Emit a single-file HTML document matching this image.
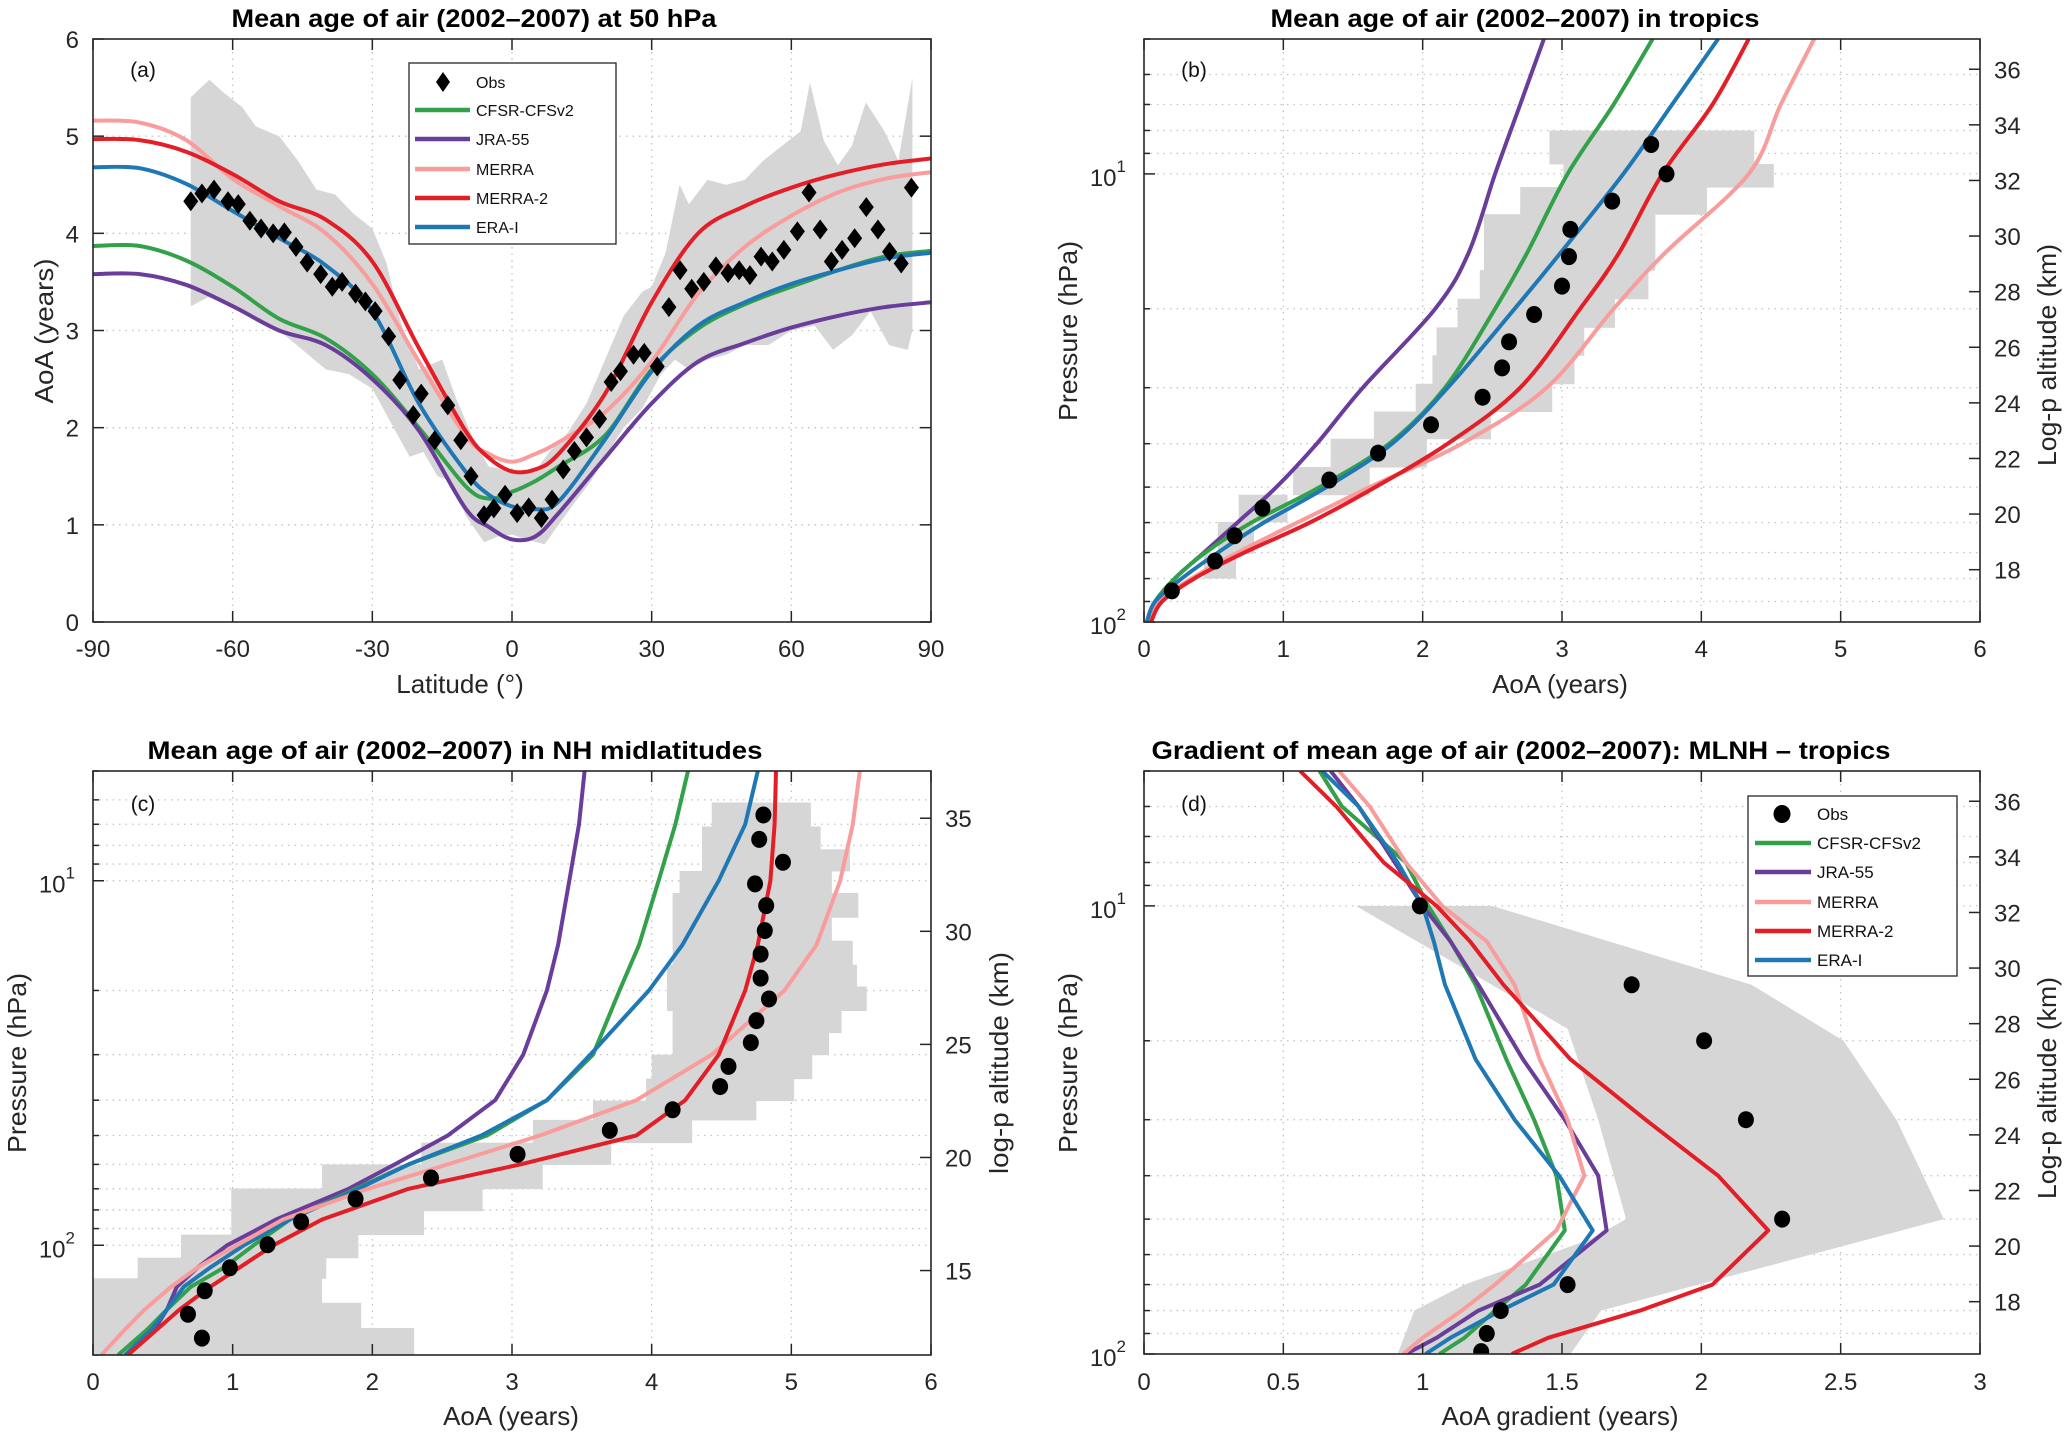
<!DOCTYPE html>
<html><head><meta charset="utf-8">
<style>
html,body{margin:0;padding:0;background:#fff;}
svg{display:block;font-family:"Liberation Sans",Arial,sans-serif;}
</style></head>
<body>
<svg id="chart" width="2067" height="1435" viewBox="0 0 2067 1435" xmlns="http://www.w3.org/2000/svg"></svg>
<script>
// ---------- Panel (a) data ----------
const latA = [-90,-80,-70,-60,-50,-40,-30,-20,-10,-5,0,5,10,20,30,40,50,60,70,80,90];
const aCFSR  = [3.87,3.87,3.72,3.45,3.12,2.92,2.55,2.0,1.4,1.27,1.34,1.45,1.6,1.92,2.6,3.02,3.27,3.45,3.62,3.76,3.82];
const aJRA   = [3.58,3.58,3.47,3.25,3.0,2.85,2.5,1.97,1.17,0.98,0.85,0.88,1.12,1.69,2.25,2.68,2.87,3.03,3.15,3.24,3.29];
const aMERRA = [5.16,5.14,4.96,4.56,4.28,4.0,3.48,2.68,1.92,1.73,1.65,1.73,1.85,2.16,2.68,3.38,3.86,4.18,4.42,4.56,4.63];
const aMERRA2= [4.97,4.96,4.84,4.61,4.33,4.14,3.71,2.82,1.97,1.69,1.55,1.57,1.73,2.35,3.29,4.0,4.28,4.47,4.61,4.71,4.77];
const aERA   = [4.68,4.67,4.51,4.23,3.95,3.67,3.2,2.25,1.55,1.31,1.19,1.16,1.24,1.88,2.58,3.05,3.29,3.48,3.62,3.74,3.8];
const obsLatA = [-69,-66.6,-64,-61,-58.8,-56.3,-53.9,-51.3,-48.9,-46.4,-44,-41.1,-38.6,-36.5,-33.6,-31.5,-29.4,-26.5,-24.1,-21.2,-19.5,-16.6,-13.8,-11,-8.8,-6,-3.9,-1.5,1.1,3.6,6.3,8.6,11,13.4,16,18.8,21.3,23.3,26.1,28.4,31.2,33.7,36.1,38.6,41.2,43.8,46.4,48.8,51.1,53.5,55.9,58.4,61.3,63.8,66.2,68.6,70.9,73.6,76.1,78.6,81.1,83.6,85.8];
const obsValA = [4.33,4.41,4.45,4.33,4.3,4.13,4.05,4.0,4.01,3.86,3.7,3.58,3.45,3.5,3.38,3.3,3.2,2.94,2.49,2.13,2.35,1.87,2.23,1.87,1.5,1.1,1.17,1.31,1.12,1.18,1.07,1.26,1.57,1.76,1.9,2.09,2.47,2.58,2.75,2.77,2.63,3.24,3.62,3.43,3.5,3.66,3.59,3.62,3.57,3.76,3.71,3.83,4.02,4.42,4.04,3.71,3.83,3.95,4.27,4.04,3.81,3.69,4.47];
const bandHiLat = [-69,-65,-62,-58,-55,-50,-46,-42,-38,-34,-30,-27,-24,-20,-15,-12,-8,-5,0,5,8,12,16,20,24,28,30,33,36,38,42,46,50,54,58,62,64,67,70,73,76,80,83,86];
const bandHi    = [5.4,5.58,5.45,5.3,5.1,5.0,4.75,4.45,4.4,4.2,4.05,3.7,3.1,2.6,2.7,2.3,1.85,1.6,1.55,1.55,1.75,1.95,2.25,2.7,3.15,3.4,3.45,3.8,4.5,4.3,4.55,4.5,4.55,4.75,4.9,5.05,5.55,4.95,4.7,4.9,5.35,5.05,4.75,5.6];
const bandLoLat = [-69,-65,-60,-55,-50,-45,-40,-35,-30,-26,-22,-19,-16,-13,-10,-6,-3,0,3,7,10,13,17,20,24,28,32,35,38,42,46,50,55,60,65,69,73,77,81,85,86];
const bandLo    = [3.25,3.35,3.25,3.1,3.0,2.8,2.6,2.55,2.4,2.05,1.7,1.75,1.5,1.45,1.1,0.82,0.88,0.9,0.85,0.8,1.0,1.2,1.45,1.7,2.0,2.2,2.55,2.7,2.6,2.7,2.75,2.85,2.85,3.0,3.05,2.8,2.95,3.2,2.85,2.8,3.0];

// ---------- Panel (b) data: tropics ----------
const presB  = [100,90,80,70,60,50,40,30,20,15,10,7,5];
const bJRA   = [0.02,0.1,0.22,0.43,0.67,0.95,1.24,1.57,2.09,2.33,2.52,2.7,2.87];
const bCFSR  = [0.02,0.08,0.22,0.44,0.77,1.26,1.76,2.16,2.52,2.75,3.04,3.37,3.65];
const bERA   = [0.02,0.08,0.27,0.53,0.86,1.31,1.78,2.18,2.66,2.99,3.44,3.79,4.12];
const bMERRA2= [0.05,0.13,0.36,0.72,1.19,1.66,2.18,2.7,3.13,3.41,3.72,4.08,4.34];
const bMERRA = [0.03,0.1,0.34,0.67,1.1,1.62,2.28,2.89,3.37,3.74,4.34,4.57,4.81];
const obsPB  = [85.2,73.1,64.2,55.7,48.2,42.0,36.3,31.5,27.1,23.7,20.6,17.8,15.3,13.3,11.5,10.0,8.6];
const obsAB  = [0.2,0.51,0.65,0.85,1.33,1.68,2.06,2.43,2.57,2.62,2.8,3.0,3.05,3.06,3.36,3.75,3.64];
const bandBPbot = [79.8,70.3,59.8,52.0,45.1,39.0,33.9,29.4,25.4,22.0,19.0,16.4,12.3,10.7,9.5];
const bandBPtop = [70.3,59.8,52.0,45.1,39.0,33.9,29.4,25.4,22.0,19.0,16.4,12.3,10.7,9.5,8.0];
const bandBLo   = [0.43,0.53,0.68,1.07,1.34,1.65,1.95,2.07,2.1,2.25,2.41,2.44,2.7,3.01,2.91];
const bandBHi   = [0.66,0.79,1.03,1.62,2.03,2.49,2.93,3.09,3.16,3.38,3.62,3.67,4.04,4.52,4.38];

// ---------- Panel (c) data: NH midlatitudes ----------
const presC  = [200,170,150,130,115,100,85,70,60,50,40,30,20,15,10,7,5];
const cJRA   = [0.23,0.44,0.53,0.6,0.75,0.96,1.31,1.83,2.16,2.54,2.88,3.08,3.25,3.33,3.41,3.48,3.52];
const cCFSR  = [0.18,0.39,0.53,0.7,0.94,1.15,1.41,1.88,2.26,2.82,3.25,3.58,3.77,3.91,4.05,4.17,4.26];
const cERA   = [0.23,0.42,0.53,0.65,0.84,1.08,1.41,1.9,2.26,2.78,3.25,3.56,3.98,4.22,4.48,4.67,4.76];
const cMERRA2= [0.25,0.46,0.62,0.84,1.05,1.29,1.64,2.26,3.06,3.89,4.24,4.48,4.67,4.76,4.85,4.88,4.89];
const cMERRA = [0.06,0.23,0.37,0.56,0.75,1.03,1.36,1.97,2.54,3.2,3.89,4.43,4.95,5.18,5.35,5.44,5.49];
const obsPC  = [179.8,154.6,133.3,115.3,99.7,86.2,74.6,65.4,56.3,48.4,42.5,36.7,32.3,27.8,24.2,21.1,18.5,15.9,13.7,11.7,10.2,8.9,7.7,6.6];
const obsAC  = [0.78,0.68,0.8,0.98,1.25,1.49,1.88,2.42,3.04,3.7,4.15,4.49,4.55,4.71,4.75,4.84,4.78,4.78,4.81,4.82,4.74,4.94,4.77,4.8];
const bandCPbot = [199,168.6,143.8,123.2,108.2,93.5,80.4,69.9,60.0,52.3,45.3,40.1,34.9,30.0,26.1,22.7,19.5,17.0,14.6,12.6,10.8,9.4,8.2,7.1];
const bandCPtop = [168.6,143.8,123.2,108.2,93.5,80.4,69.9,60.0,52.3,45.3,40.1,34.9,30.0,26.1,22.7,19.5,17.0,14.6,12.6,10.8,9.4,8.2,7.1,6.1];
const bandCLo   = [0,0,0,0.32,0.63,0.99,0.99,1.64,2.35,3.15,3.58,3.96,4.0,4.15,4.15,4.11,4.11,4.15,4.15,4.15,4.2,4.36,4.36,4.43];
const bandCHi   = [2.3,1.92,1.64,1.67,1.9,2.37,2.79,3.22,3.71,4.29,4.75,5.02,5.15,5.27,5.36,5.54,5.47,5.44,5.29,5.48,5.29,5.42,5.21,5.14];

// ---------- Panel (d) data: gradient ----------
const presD  = [100,92,80,70,53,40,30,22,15,12,10,8,6,5];
const dCFSR  = [1.06,1.15,1.26,1.37,1.51,1.48,1.4,1.3,1.19,1.1,1.02,0.94,0.71,0.63];
const dJRA   = [0.94,1.05,1.2,1.42,1.66,1.63,1.51,1.36,1.2,1.1,1.0,0.9,0.77,0.67];
const dMERRA = [0.93,1.0,1.14,1.26,1.48,1.58,1.52,1.42,1.33,1.23,1.07,0.94,0.81,0.7];
const dMERRA2= [1.32,1.45,1.78,2.04,2.24,2.06,1.8,1.53,1.29,1.17,1.05,0.86,0.69,0.56];
const dERA   = [1.01,1.1,1.28,1.47,1.61,1.49,1.33,1.19,1.08,1.04,1.0,0.91,0.77,0.64];
const obsPD  = [98.8,90,80,70,50,30,20,15,10];
const obsAD  = [1.21,1.23,1.28,1.52,2.29,2.16,2.01,1.75,0.99];
const bandDA = [0.76,1.25,2.18,2.51,2.7,2.87,1.64,1.53,0.91,0.97,1.15,1.6,1.73,1.63,1.52];
const bandDP = [10,10,15,20,30,50,80,100,100,80,70,55.5,50,30,18.8];

// ---------- Helpers ----------
const NS = "http://www.w3.org/2000/svg";
const svg = document.getElementById('chart');
function mk(tag, parent, attrs){
  const e = document.createElementNS(NS, tag);
  for (const k in attrs) e.setAttribute(k, attrs[k]);
  (parent || svg).appendChild(e);
  return e;
}
function lin(d0,d1,r0,r1){ return v => r0 + (v-d0)*(r1-r0)/(d1-d0); }
function logS(ptop,pbot,ytop,ybot){ const a=Math.log10(ptop), b=Math.log10(pbot); return p => ytop + (Math.log10(p)-a)/(b-a)*(ybot-ytop); }
function smoothPath(pts){
  let d = "M"+pts[0][0].toFixed(1)+","+pts[0][1].toFixed(1);
  for (let i=0;i<pts.length-1;i++){
    const p0=pts[Math.max(i-1,0)], p1=pts[i], p2=pts[i+1], p3=pts[Math.min(i+2,pts.length-1)];
    const c1=[p1[0]+(p2[0]-p0[0])/6, p1[1]+(p2[1]-p0[1])/6];
    const c2=[p2[0]-(p3[0]-p1[0])/6, p2[1]-(p3[1]-p1[1])/6];
    d += " C"+c1[0].toFixed(1)+","+c1[1].toFixed(1)+" "+c2[0].toFixed(1)+","+c2[1].toFixed(1)+" "+p2[0].toFixed(1)+","+p2[1].toFixed(1);
  }
  return d;
}
function polyPath(pts){ return pts.map((p,i)=>(i?"L":"M")+p[0].toFixed(1)+","+p[1].toFixed(1)).join(" "); }
const COL = {cfsr:"#33a04a", jra:"#6a3d9a", merra:"#f89c9c", merra2:"#e31e26", era:"#1f78b4"};
const TXT = "#262626", GRID="#c4c4c4", BAND="#d6d6d6";

function txt(parent, x, y, s, size, anchor, extra){
  const t = mk("text", parent, Object.assign({x:x, y:y, "font-size":size, fill:TXT, "text-anchor":anchor||"middle"}, extra||{}));
  t.textContent = s;
  return t;
}

function makePanel(id, L, R, T, B){
  const g = mk("g", svg, {});
  
  
  const cp = mk("clipPath", g, {id:"clip-"+id});
  mk("rect", cp, {x:L, y:T, width:R-L, height:B-T});
  return g;
}
function gridV(g, xs, T, B){
  xs.forEach(x => {
    const l = mk("line", g, {x1:x, x2:x, y1:T, y2:B, stroke:GRID, "stroke-width":1.3, "stroke-dasharray":"1.5,5"});
    
    
  });
}
function gridH(g, ys, L, R){
  ys.forEach(y => {
    const l = mk("line", g, {x1:L, x2:R, y1:y, y2:y, stroke:GRID, "stroke-width":1.3, "stroke-dasharray":"1.5,5"});
    
    
  });
}
function frame(g, L, R, T, B){
  const r = mk("rect", g, {x:L, y:T, width:R-L, height:B-T, fill:"none", stroke:"#262626", "stroke-width":1.6});
  
  
}
function xTicks(g, vals, labels, sx, T, B, ly){
  vals.forEach((v,i) => {
    const x = sx(v);
    mk("line", g, {x1:x, x2:x, y1:B, y2:B-11, stroke:"#262626", "stroke-width":1.5});
    mk("line", g, {x1:x, x2:x, y1:T, y2:T+11, stroke:"#262626", "stroke-width":1.5});
    const t = txt(g, x, ly, labels[i], 24, "middle");
    
    
  });
}
function logLeftAxis(g, sy, pmin, pmax, L, R, T, B, labX){
  const ys=[];
  [1,10,100].forEach(dec => { for (let m=1;m<=9;m++){ const p=m*dec; if (p>=pmin-1e-9 && p<=pmax+1e-9) ys.push({p:p, y:sy(p), major:m===1}); } });
  gridH(g, ys.filter(o=>o.y>T+1 && o.y<B-1).map(o=>o.y), L, R);
  ys.forEach(o => {
    mk("line", g, {x1:L, x2:L+(o.major?11:6), y1:o.y, y2:o.y, stroke:"#262626", "stroke-width":1.5});
    if (o.major){
      const t = mk("text", g, {x:labX, y:o.y+12, "font-size":24, fill:TXT, "text-anchor":"end"});
      
      
      t.textContent = "10";
      const s = mk("tspan", t, {dy:-14, "font-size":17});
      s.textContent = String(Math.round(Math.log10(o.p)));
      t.setAttribute("dx", "-10");
    }
  });
}
function altRightAxis(g, sy, zs, R, T, B){
  zs.forEach(z => {
    const y = sy(1000*Math.exp(-z/7));
    mk("line", g, {x1:R, x2:R-11, y1:y, y2:y, stroke:"#262626", "stroke-width":1.5});
    const t = txt(g, R+14, y+9, String(z), 24, "start");
    
    
  });
}
function seriesLine(g, pts, color, name, smooth, id){
  const p = mk("path", g, {d: smooth?smoothPath(pts):polyPath(pts), fill:"none", stroke:color, "stroke-width":4, "stroke-linejoin":"round", "clip-path":"url(#clip-"+id+")"});
  
  
}
function dot(g, x, y, name){
  const c = mk("ellipse", g, {cx:x, cy:y, rx:8, ry:8.5, fill:"#000"});
  
  
}
function title(s, cx, y, w){
  const t = mk("text", svg, {x:cx, y:y, "font-size":25, "font-weight":"bold", fill:"#000", "text-anchor":"middle", textLength:w, lengthAdjust:"spacingAndGlyphs"});
  t.textContent = s;
  return t;
}
function vlabel(s, x, y, w){
  const t = mk("text", svg, {x:x, y:y, "font-size":26, fill:TXT, "text-anchor":"middle", transform:"rotate(-90 "+x+" "+y+")", textLength:w, lengthAdjust:"spacingAndGlyphs"});
  t.textContent = s;
  return t;
}
function legend(g, x0, y0, x1, y1, rows, marker, lx0, lx1, tx, mx){
  const lg = mk("g", g, {});
  
  
  mk("rect", lg, {x:x0, y:y0, width:x1-x0, height:y1-y0, fill:"#fff", stroke:"#262626", "stroke-width":1.3});
  const names = ["Obs","CFSR-CFSv2","JRA-55","MERRA","MERRA-2","ERA-I"];
  const cols = [null, COL.cfsr, COL.jra, COL.merra, COL.merra2, COL.era];
  names.forEach((n,i) => {
    const e = mk("g", lg, {});
    
    
    const y = rows[i];
    if (i===0){
      if (marker==="diamond") mk("polygon", e, {points:(mx)+","+(y-10)+" "+(mx+7)+","+y+" "+mx+","+(y+10)+" "+(mx-7)+","+y, fill:"#000"});
      else mk("ellipse", e, {cx:mx, cy:y, rx:8.5, ry:9, fill:"#000"});
    } else {
      mk("line", e, {x1:lx0, x2:lx1, y1:y, y2:y, stroke:cols[i], "stroke-width":4.5});
    }
    const t = txt(e, tx, y+6, n, marker==="diamond"?16:17, "start", {fill:"#111"});
  });
}

// ================= Panel (a) =================
(function(){
  const L=93,R=931,T=39,B=622, id="a";
  const g = makePanel(id,L,R,T,B);
  const sx = lin(-90,90,L,R), sy = lin(0,6,B,T);
  const xt=[-90,-60,-30,0,30,60,90], yt=[0,1,2,3,4,5,6];
  gridV(g, xt.slice(1,-1).map(sx), T, B);
  gridH(g, yt.slice(1,-1).map(sy), L, R);
  // band
  const up = bandHiLat.map((v,i)=>[sx(v), sy(bandHi[i])]);
  const lo = bandLoLat.map((v,i)=>[sx(v), sy(bandLo[i])]).reverse();
  const band = mk("path", g, {d: polyPath(up.concat(lo))+" Z", fill:BAND, stroke:"none"});
  
  
  const S = [[aCFSR,COL.cfsr,"line-cfsr-cfsv2"],[aJRA,COL.jra,"line-jra-55"],[aMERRA,COL.merra,"line-merra"],[aMERRA2,COL.merra2,"line-merra-2"],[aERA,COL.era,"line-era-i"]];
  S.forEach(s => seriesLine(g, latA.map((v,i)=>[sx(v), sy(s[0][i])]), s[1], s[2], true, id));
  obsLatA.forEach((v,i) => {
    const x=sx(v), y=sy(obsValA[i]);
    const d = mk("polygon", g, {points:x+","+(y-10)+" "+(x+7.5)+","+y+" "+x+","+(y+10)+" "+(x-7.5)+","+y, fill:"#000"});
    
    
  });
  frame(g,L,R,T,B);
  xTicks(g, xt, xt.map(String), sx, T, B, 657);
  yt.forEach(v => {
    const y=sy(v);
    mk("line", g, {x1:L, x2:L+11, y1:y, y2:y, stroke:"#262626", "stroke-width":1.5});
    mk("line", g, {x1:R, x2:R-11, y1:y, y2:y, stroke:"#262626", "stroke-width":1.5});
    const t = txt(g, L-14, y+9, String(v), 24, "end");
    
    
  });
  const pl = txt(g, 143, 77, "(a)", 21, "middle", {fill:"#111"});
  
  
  legend(g, 409, 63, 616, 244, [82,110,139,169,198,227], "diamond", 415, 470, 476, 443);
  const t1 = title("Mean age of air (2002\u20132007) at 50 hPa", 474, 27, 485);
  
  
  const xl = txt(svg, 460, 693, "Latitude (\u00b0)", 26, "middle");
  
  
  const yl = vlabel("AoA (years)", 53, 331, 145);
  
  
})();

// ================= Panel (b) =================
(function(){
  const L=1144,R=1980,T=39,B=622, id="b";
  const g = makePanel(id,L,R,T,B);
  const sx = lin(0,6,L,R), sy = logS(5,100,T,B);
  const xt=[0,1,2,3,4,5,6];
  gridV(g, xt.slice(1,-1).map(sx), T, B);
  logLeftAxis(g, sy, 5, 100, L, R, T, B, L-8);
  bandBPbot.forEach((p,i) => {
    const r = mk("rect", g, {x:sx(bandBLo[i]), y:sy(bandBPtop[i]), width:sx(bandBHi[i])-sx(bandBLo[i]), height:sy(p)-sy(bandBPtop[i])+0.5, fill:BAND});
    
    
  });
  const S = [[bJRA,COL.jra,"line-jra-55"],[bCFSR,COL.cfsr,"line-cfsr-cfsv2"],[bMERRA,COL.merra,"line-merra"],[bMERRA2,COL.merra2,"line-merra-2"],[bERA,COL.era,"line-era-i"]];
  S.forEach(s => seriesLine(g, presB.map((p,i)=>[sx(s[0][i]), sy(p)]), s[1], s[2], true, id));
  obsPB.forEach((p,i) => dot(g, sx(obsAB[i]), sy(p), 'obs-dot'));
  frame(g,L,R,T,B);
  xTicks(g, xt, xt.map(String), sx, T, B, 657);
  altRightAxis(g, sy, [18,20,22,24,26,28,30,32,34,36], R, T, B);
  const pl = txt(g, 1194, 77, "(b)", 21, "middle", {fill:"#111"});
  
  
  const t1 = title("Mean age of air (2002\u20132007) in tropics", 1515, 27, 489);
  
  
  const xl = txt(svg, 1560, 693, "AoA (years)", 26, "middle");
  
  
  const yl = vlabel("Pressure (hPa)", 1077, 331, 180);
  
  
  const yr = vlabel("Log-p altitude (km)", 2056, 355, 222);
  
  
})();

// ================= Panel (c) =================
(function(){
  const L=93,R=931,T=771,B=1355, id="c";
  const g = makePanel(id,L,R,T,B);
  const sx = lin(0,6,L,R), sy = logS(5,200,T,B);
  const xt=[0,1,2,3,4,5,6];
  gridV(g, xt.slice(1,-1).map(sx), T, B);
  logLeftAxis(g, sy, 5, 200, L, R, T, B, L-8);
  bandCPbot.forEach((p,i) => {
    const r = mk("rect", g, {x:sx(bandCLo[i]), y:sy(bandCPtop[i]), width:sx(bandCHi[i])-sx(bandCLo[i]), height:sy(p)-sy(bandCPtop[i])+0.5, fill:BAND});
    
    
  });
  const S = [[cJRA,COL.jra,"line-jra-55"],[cCFSR,COL.cfsr,"line-cfsr-cfsv2"],[cERA,COL.era,"line-era-i"],[cMERRA,COL.merra,"line-merra"],[cMERRA2,COL.merra2,"line-merra-2"]];
  S.forEach(s => seriesLine(g, presC.map((p,i)=>[sx(s[0][i]), sy(p)]), s[1], s[2], false, id));
  obsPC.forEach((p,i) => dot(g, sx(obsAC[i]), sy(p), 'obs-dot'));
  frame(g,L,R,T,B);
  xTicks(g, xt, xt.map(String), sx, T, B, 1390);
  altRightAxis(g, sy, [15,20,25,30,35], R, T, B);
  const pl = txt(g, 143, 811, "(c)", 21, "middle", {fill:"#111"});
  
  
  const t1 = title("Mean age of air (2002\u20132007) in NH midlatitudes", 455, 759, 615);
  
  
  const xl = txt(svg, 511, 1425, "AoA (years)", 26, "middle");
  
  
  const yl = vlabel("Pressure (hPa)", 26, 1063, 180);
  
  
  const yr = vlabel("log-p altitude (km)", 1008, 1063, 222);
  
  
})();

// ================= Panel (d) =================
(function(){
  const L=1144,R=1980,T=771,B=1354, id="d";
  const g = makePanel(id,L,R,T,B);
  const sx = lin(0,3,L,R), sy = logS(5,100,T,B);
  const xt=[0,0.5,1,1.5,2,2.5,3];
  gridV(g, xt.slice(1,-1).map(sx), T, B);
  logLeftAxis(g, sy, 5, 100, L, R, T, B, L-8);
  const band = mk("path", g, {d: polyPath(bandDA.map((a,i)=>[sx(a), sy(bandDP[i])]))+" Z", fill:BAND, stroke:"none", "clip-path":"url(#clip-d)"});
  
  
  const S = [[dCFSR,COL.cfsr,"line-cfsr-cfsv2"],[dJRA,COL.jra,"line-jra-55"],[dMERRA,COL.merra,"line-merra"],[dERA,COL.era,"line-era-i"],[dMERRA2,COL.merra2,"line-merra-2"]];
  S.forEach(s => seriesLine(g, presD.map((p,i)=>[sx(s[0][i]), sy(p)]), s[1], s[2], false, id));
  const og = mk("g", g, {"clip-path":"url(#clip-d)"});
  obsPD.forEach((p,i) => dot(og, sx(obsAD[i]), sy(p), 'obs-dot'));
  frame(g,L,R,T,B);
  xTicks(g, xt, xt.map(String), sx, T, B, 1390);
  altRightAxis(g, sy, [18,20,22,24,26,28,30,32,34,36], R, T, B);
  const pl = txt(g, 1194, 811, "(d)", 21, "middle", {fill:"#111"});
  
  
  legend(g, 1748, 796, 1957, 976, [814,843,872,902,931,960], "dot", 1755, 1811, 1817, 1782);
  const t1 = title("Gradient of mean age of air (2002\u20132007): MLNH \u2013 tropics", 1521, 759, 739);
  
  
  const xl = txt(svg, 1560, 1425, "AoA gradient (years)", 26, "middle");
  
  
  const yl = vlabel("Pressure (hPa)", 1077, 1063, 180);
  
  
  const yr = vlabel("Log-p altitude (km)", 2056, 1088, 222);
  
  
})();
</script>
</body></html>
